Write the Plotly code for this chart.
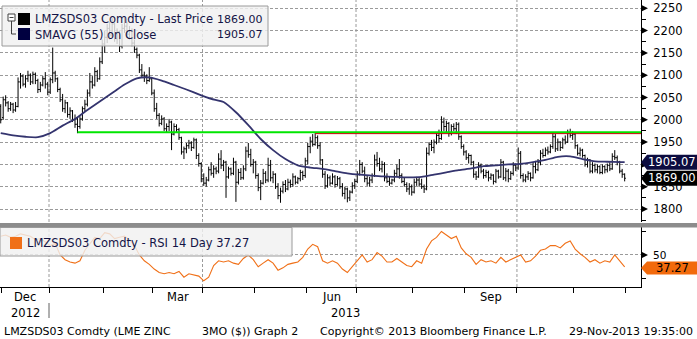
import pandas as pd
import plotly.graph_objects as go

W, H = 697, 339
FONT = "DejaVu Sans"
TEXT = "#141446"
GRID = "#9a9a9a"
SMA_COLOR = "#34346e"
RSI_COLOR = "#f07018"

# ---------------------------------------------------------------- data
# LME trading calendar, 30-Nov-2012 .. 29-Nov-2013
lme_holidays = ["2012-12-25", "2012-12-26", "2013-01-01", "2013-03-29",
                "2013-04-01", "2013-05-06", "2013-05-27", "2013-08-26"]
sessions = pd.bdate_range("2012-11-30", "2013-11-29")
sessions = sessions[~sessions.isin(pd.to_datetime(lme_holidays))]

bar_open = [
    2030, 2005, 2045, 2038, 2025, 2035, 2022, 2030, 2085, 2098,
    2080, 2092, 2100, 2085, 2102, 2088, 2068, 2078, 2092, 2080,
    2062, 2090, 2105, 2092, 2068, 2045, 2025, 2038, 2012, 2020,
    2000, 1990, 1985, 2002, 2025, 2035, 2060, 2085, 2078, 2108,
    2092, 2130, 2170, 2185, 2205, 2190, 2215, 2182, 2198, 2165,
    2205, 2210, 2192, 2200, 2172, 2158, 2145, 2112, 2100, 2098,
    2088, 2092, 2060, 2025, 2010, 1992, 2002, 1980, 1985, 1995,
    1968, 1985, 1978, 1960, 1928, 1935, 1942, 1948, 1938, 1955,
    1920, 1902, 1868, 1858, 1865, 1888, 1880, 1890, 1885, 1912,
    1898, 1905, 1872, 1890, 1880, 1905, 1860, 1882, 1870, 1890,
    1930, 1922, 1900, 1905, 1875, 1848, 1858, 1880, 1865, 1898,
    1870, 1878, 1850, 1830, 1840, 1855, 1845, 1860, 1855, 1872,
    1860, 1868, 1882, 1875, 1908, 1940, 1952, 1945, 1960, 1942,
    1910, 1878, 1852, 1870, 1858, 1872, 1855, 1868, 1850, 1835,
    1845, 1825, 1838, 1852, 1862, 1878, 1900, 1885, 1868, 1858,
    1865, 1875, 1910, 1902, 1890, 1900, 1870, 1862, 1858, 1865,
    1880, 1890, 1875, 1862, 1855, 1845, 1850, 1838, 1860, 1865,
    1856, 1850, 1845, 1925, 1945, 1938, 1950, 1965, 1958, 1995,
    1985, 1992, 1970, 1985, 1980, 1990, 1962, 1940, 1928, 1915,
    1920, 1905, 1878, 1872, 1898, 1885, 1875, 1882, 1870, 1876,
    1862, 1885, 1872, 1905, 1870, 1885, 1868, 1880, 1898, 1892,
    1925, 1875, 1865, 1872, 1880, 1870, 1895, 1888, 1905, 1925,
    1920, 1932, 1928, 1940, 1962, 1935, 1950, 1938, 1955, 1950,
    1972, 1965, 1968, 1942, 1925, 1932, 1920, 1900, 1910, 1885,
    1898, 1888, 1895, 1882, 1895, 1888, 1898, 1890, 1918, 1915,
    1905, 1885, 1878,
]
bar_high = [
    2035, 2052, 2055, 2042, 2040, 2038, 2040, 2095, 2105, 2102,
    2100, 2110, 2104, 2108, 2106, 2092, 2085, 2098, 2107, 2085,
    2095, 2162, 2110, 2095, 2072, 2058, 2045, 2040, 2028, 2022,
    2012, 2004, 2008, 2030, 2045, 2068, 2105, 2098, 2118, 2112,
    2140, 2180, 2200, 2215, 2220, 2228, 2218, 2205, 2200, 2215,
    2228, 2220, 2210, 2205, 2180, 2162, 2148, 2125, 2108, 2102,
    2118, 2095, 2068, 2038, 2015, 2010, 2006, 1992, 2002, 1998,
    1992, 1990, 1982, 1962, 1940, 1948, 1955, 1952, 1960, 1958,
    1925, 1905, 1880, 1872, 1895, 1905, 1898, 1895, 1925, 1932,
    1910, 1908, 1895, 1893, 1915, 1908, 1890, 1892, 1898, 1940,
    1948, 1935, 1912, 1908, 1880, 1865, 1890, 1885, 1915, 1910,
    1885, 1880, 1858, 1848, 1862, 1865, 1868, 1866, 1880, 1875,
    1872, 1888, 1886, 1915, 1948, 1962, 1968, 1970, 1965, 1950,
    1912, 1885, 1878, 1875, 1880, 1876, 1874, 1872, 1858, 1850,
    1848, 1842, 1860, 1868, 1885, 1910, 1905, 1895, 1875, 1872,
    1880, 1922, 1928, 1915, 1908, 1905, 1880, 1872, 1868, 1888,
    1900, 1912, 1880, 1870, 1860, 1858, 1855, 1868, 1872, 1870,
    1868, 1855, 1938, 1950, 1955, 1956, 1972, 1978, 2008, 2005,
    1998, 1995, 1990, 1992, 1995, 1994, 1965, 1945, 1932, 1925,
    1922, 1908, 1885, 1905, 1902, 1890, 1888, 1886, 1880, 1878,
    1890, 1888, 1912, 1908, 1892, 1890, 1885, 1905, 1902, 1938,
    1930, 1880, 1878, 1885, 1882, 1905, 1908, 1912, 1932, 1935,
    1938, 1940, 1945, 1970, 1968, 1958, 1952, 1960, 1965, 1978,
    1980, 1975, 1970, 1945, 1938, 1935, 1922, 1915, 1912, 1905,
    1902, 1900, 1898, 1900, 1898, 1902, 1905, 1925, 1932, 1920,
    1908, 1890, 1880,
]
bar_low = [
    1992, 2000, 2030, 2018, 2020, 2015, 2018, 2028, 2070, 2075,
    2072, 2085, 2078, 2080, 2080, 2060, 2062, 2075, 2070, 2055,
    2058, 2082, 2085, 2062, 2040, 2018, 2015, 2005, 2002, 1995,
    1982, 1970, 1980, 1998, 2018, 2030, 2052, 2070, 2075, 2085,
    2090, 2125, 2150, 2172, 2180, 2185, 2175, 2170, 2152, 2160,
    2195, 2185, 2180, 2165, 2150, 2138, 2105, 2095, 2085, 2080,
    2085, 2055, 2018, 2002, 1985, 1988, 1975, 1972, 1975, 1932,
    1965, 1972, 1955, 1922, 1912, 1925, 1935, 1930, 1935, 1912,
    1895, 1860, 1852, 1850, 1862, 1875, 1870, 1878, 1880, 1890,
    1885, 1825, 1868, 1875, 1876, 1816, 1855, 1865, 1866, 1885,
    1915, 1895, 1880, 1868, 1840, 1820, 1855, 1858, 1860, 1862,
    1858, 1845, 1822, 1814, 1835, 1838, 1842, 1848, 1850, 1855,
    1856, 1862, 1865, 1870, 1900, 1925, 1940, 1942, 1935, 1900,
    1870, 1845, 1848, 1852, 1855, 1848, 1852, 1845, 1828, 1822,
    1815, 1818, 1835, 1845, 1858, 1875, 1880, 1860, 1852, 1850,
    1858, 1872, 1895, 1885, 1882, 1862, 1858, 1852, 1855, 1860,
    1872, 1868, 1858, 1850, 1838, 1832, 1830, 1835, 1852, 1850,
    1845, 1836, 1842, 1920, 1930, 1925, 1945, 1948, 1955, 1975,
    1970, 1962, 1965, 1975, 1968, 1955, 1935, 1920, 1910, 1902,
    1898, 1870, 1865, 1870, 1880, 1868, 1870, 1862, 1865, 1855,
    1858, 1868, 1870, 1865, 1862, 1860, 1865, 1875, 1885, 1888,
    1868, 1860, 1860, 1865, 1862, 1868, 1880, 1885, 1898, 1915,
    1918, 1922, 1925, 1935, 1928, 1930, 1930, 1935, 1945, 1948,
    1960, 1955, 1935, 1920, 1918, 1915, 1895, 1893, 1880, 1880,
    1882, 1880, 1878, 1878, 1880, 1882, 1885, 1888, 1910, 1898,
    1880, 1870, 1862,
]
bar_close = [
    2000, 2045, 2038, 2025, 2035, 2022, 2030, 2085, 2098, 2080,
    2092, 2100, 2085, 2102, 2088, 2068, 2078, 2092, 2080, 2062,
    2090, 2105, 2092, 2068, 2045, 2025, 2038, 2012, 2020, 2000,
    1990, 1985, 2002, 2025, 2035, 2060, 2085, 2078, 2108, 2092,
    2130, 2170, 2185, 2205, 2190, 2215, 2182, 2198, 2165, 2205,
    2210, 2192, 2200, 2172, 2158, 2145, 2112, 2100, 2098, 2088,
    2092, 2060, 2025, 2010, 1992, 2002, 1980, 1985, 1995, 1968,
    1985, 1978, 1960, 1928, 1935, 1942, 1948, 1938, 1955, 1920,
    1902, 1868, 1858, 1865, 1888, 1880, 1890, 1885, 1912, 1898,
    1905, 1872, 1890, 1880, 1905, 1860, 1882, 1870, 1890, 1930,
    1922, 1900, 1905, 1875, 1848, 1858, 1880, 1865, 1898, 1870,
    1878, 1850, 1830, 1840, 1855, 1845, 1860, 1855, 1872, 1860,
    1868, 1882, 1875, 1908, 1940, 1952, 1945, 1960, 1942, 1910,
    1878, 1852, 1870, 1858, 1872, 1855, 1868, 1850, 1835, 1845,
    1825, 1838, 1852, 1862, 1878, 1900, 1885, 1868, 1858, 1865,
    1875, 1910, 1902, 1890, 1900, 1870, 1862, 1858, 1865, 1880,
    1890, 1875, 1862, 1855, 1845, 1850, 1838, 1860, 1865, 1856,
    1850, 1845, 1925, 1945, 1938, 1950, 1965, 1958, 1995, 1985,
    1992, 1970, 1985, 1980, 1990, 1962, 1940, 1928, 1915, 1920,
    1905, 1878, 1872, 1898, 1885, 1875, 1882, 1870, 1876, 1862,
    1885, 1872, 1905, 1870, 1885, 1868, 1880, 1898, 1892, 1925,
    1875, 1865, 1872, 1880, 1870, 1895, 1888, 1905, 1925, 1920,
    1932, 1928, 1940, 1962, 1935, 1950, 1938, 1955, 1950, 1972,
    1965, 1968, 1942, 1925, 1932, 1920, 1900, 1910, 1885, 1898,
    1888, 1895, 1882, 1895, 1888, 1898, 1890, 1918, 1915, 1905,
    1885, 1878, 1869.00,
]

# 55-day simple moving average, sampled every 5th session plus the last one
sma55 = [
    1970, 1965, 1962, 1961, 1970, 1987, 2002, 2022, 2041, 2060,
    2079, 2093, 2095, 2088, 2078, 2068, 2057, 2047, 2040, 2017,
    1988, 1957, 1932, 1912, 1898, 1893, 1890, 1885, 1880, 1877,
    1875, 1873, 1872, 1871, 1872, 1877, 1882, 1887, 1891, 1896,
    1898, 1900, 1901, 1905, 1910, 1917, 1918, 1912, 1907, 1906,
    1905, 1905.07,
]

# 14-day RSI, sampled every 2nd session (last sample = last session)
rsi14 = [
    70.0, 71.3, 68.8, 70.0, 72.5, 71.3, 70.0, 66.3, 67.5, 63.8,
    60.0, 62.5, 50.0, 45.0, 42.5, 41.3, 43.8, 55.0, 62.5, 68.8,
    67.5, 73.8, 72.5, 67.5, 68.8, 70.0, 66.3, 60.0, 50.0, 43.8,
    40.0, 35.0, 31.3, 30.0, 31.3, 30.0, 32.5, 26.3, 30.0, 28.8,
    27.5, 22.5, 26.3, 38.8, 43.8, 42.5, 43.8, 41.3, 40.0, 46.3,
    50.0, 45.0, 37.5, 41.3, 45.0, 41.3, 33.8, 36.3, 40.0, 41.3,
    42.5, 47.5, 56.3, 61.3, 58.8, 43.8, 41.3, 43.8, 41.3, 35.0,
    31.3, 37.5, 43.8, 50.0, 42.5, 45.0, 52.5, 48.8, 42.5, 42.5,
    46.3, 42.5, 38.8, 37.5, 43.8, 41.3, 56.3, 65.0, 68.8, 75.0,
    71.3, 67.5, 70.0, 57.5, 51.3, 47.5, 40.0, 45.0, 42.5, 43.8,
    41.3, 47.5, 42.5, 45.0, 47.5, 50.0, 42.5, 43.8, 48.8, 55.0,
    56.3, 60.0, 60.0, 57.5, 62.5, 65.0, 56.3, 51.3, 47.5, 42.5,
    45.0, 41.3, 43.8, 42.5, 50.0, 43.8, 37.27,
]

# horizontal levels drawn on the price panel: (value, first session, colour, width)
levels = [
    (1972, "2013-01-17", "#00e600", 2.0),
    (1969, "2013-06-06", "#c80000", 1.0),
]

price_ticks = [1800, 1850, 1900, 1950, 2000, 2050, 2100, 2150, 2200, 2250]
rsi_ticks = [50]
rsi_minor = [25, 75]

# ---------------------------------------------------------------- geometry
n = len(sessions)
sx = list(range(n))
sma_x = list(range(0, n - 2, 5)) + [n - 1]
rsi_x = list(range(0, n, 2))

X_DOM = 641 / W
X_RANGE = [-0.29, 258.6]
Y_MAIN = [1770.9, 2268.6]
Y_RSI = [15.9, 79.8]
MAIN_DOM = [1 - 222 / H, 1.0]
RSI_DOM = [1 - 287 / H, 1 - 227 / H]
px_per_price = 222 / (Y_MAIN[1] - Y_MAIN[0])
px_per_rsi = 60 / (Y_RSI[1] - Y_RSI[0])


def px(x, y):
    """pixel position -> paper coordinates"""
    return x / W, 1 - y / H


# month boundaries (between last session of a month and first of the next)
bounds = [i - 0.5 for i in range(1, n) if sessions[i].month != sessions[i - 1].month]
bounds.append(n - 0.5)
spans = list(zip(bounds[:-1], bounds[1:]))
span_month = [sessions[int(a + 0.5)].month for a, _ in spans]
quarter_lines = [a for (a, _), m in zip(spans, span_month) if m in (1, 4, 7, 10)]
jan_bound = [a for (a, _), m in zip(spans, span_month) if m == 1][0]

# the last-value tags sit on top of the axis labels next to them;
# a label entirely under a tag is left blank
tag_values = [sma55[-1], bar_close[-1]]
price_ticktext = ["" if any(abs(v - t) < 8 for t in tag_values) else str(v)
                  for v in price_ticks]

# ---------------------------------------------------------------- traces
fig = go.Figure()
fig.add_trace(go.Ohlc(
    x=sx, open=bar_open, high=bar_high, low=bar_low, close=bar_close,
    increasing=dict(line=dict(color="#000000", width=1)),
    decreasing=dict(line=dict(color="#000000", width=1)),
    tickwidth=0.5, showlegend=False, hoverinfo="skip",
    xaxis="x", yaxis="y"))
fig.add_trace(go.Scatter(
    x=sma_x, y=sma55, mode="lines",
    line=dict(color=SMA_COLOR, width=1.8, shape="spline", smoothing=0.6),
    showlegend=False, hoverinfo="skip", xaxis="x", yaxis="y"))
fig.add_trace(go.Scatter(
    x=rsi_x, y=rsi14, mode="lines",
    line=dict(color=RSI_COLOR, width=1.1),
    showlegend=False, hoverinfo="skip", xaxis="x2", yaxis="y2"))

shapes = []
annotations = []

# quarter grid lines in both panels
for b in quarter_lines:
    for xr, yr in (("x", "y domain"), ("x2", "y2 domain")):
        shapes.append(dict(type="line", xref=xr, yref=yr, x0=b, x1=b, y0=0, y1=1,
                           line=dict(color=GRID, width=1, dash="3px,2px"), layer="below"))

# support / resistance levels
for value, start, color, width in levels:
    i0 = sessions.get_loc(pd.Timestamp(start))
    shapes.append(dict(type="line", xref="x", yref="y", x0=i0, x1=X_RANGE[1],
                       y0=value, y1=value, line=dict(color=color, width=width)))

# axis tick triangles
tri_dx = 7 / W
for v in price_ticks:
    dy = 3.5 / px_per_price
    shapes.append(dict(type="path", xref="paper", yref="y",
                       path=f"M {X_DOM},{v + dy} L {X_DOM + tri_dx},{v} L {X_DOM},{v - dy} Z",
                       fillcolor="black", line=dict(width=0), layer="above"))
for v in rsi_ticks:
    dy = 3.5 / px_per_rsi
    shapes.append(dict(type="path", xref="paper", yref="y2",
                       path=f"M {X_DOM},{v + dy} L {X_DOM + tri_dx},{v} L {X_DOM},{v - dy} Z",
                       fillcolor="black", line=dict(width=0), layer="above"))

# panel separator band
x0, y0 = px(0, 227.5)
x1, y1 = px(W, 223)
shapes.append(dict(type="rect", xref="paper", yref="paper", x0=x0, x1=x1, y0=y0, y1=y1,
                   fillcolor="#8c8c8c", line=dict(width=0), layer="above"))


def value_tag(value, yref, per_px, fill, txt, txt_color, half_h=7.5, size=11.5, shift_px=0):
    h = half_h / per_px
    c = value - shift_px / per_px
    xa, xb = X_DOM, X_DOM + 6 / W
    shapes.append(dict(type="path", xref="paper", yref=yref,
                       path=(f"M {xa},{c} L {xb},{c + h} L 1,{c + h} "
                             f"L 1,{c - h} L {xb},{c - h} Z"),
                       fillcolor=fill, line=dict(width=0), layer="above"))
    annotations.append(dict(xref="paper", yref=yref, x=(xb + 1) / 2, y=c,
                            text=txt, showarrow=False, xanchor="center", yanchor="middle",
                            font=dict(family=FONT, size=size, color=txt_color)))


value_tag(sma55[-1], "y", px_per_price, "#0c0c40", f"{sma55[-1]:.2f}", "white")
value_tag(bar_close[-1], "y", px_per_price, "#000000", f"{bar_close[-1]:.2f}", "white")
value_tag(rsi14[-1], "y2", px_per_rsi, "#f26a0c", f"{rsi14[-1]:.2f}", "black",
          half_h=6.5, shift_px=1)


def rect_px(xa, ya, xb, yb, **kw):
    p0 = px(xa, yb)
    p1 = px(xb, ya)
    d = dict(type="rect", xref="paper", yref="paper", x0=p0[0], y0=p0[1], x1=p1[0], y1=p1[1],
             layer="above")
    d.update(kw)
    shapes.append(d)


def line_px(xa, ya, xb, yb, color="#404040", width=1):
    p0 = px(xa, ya)
    p1 = px(xb, yb)
    shapes.append(dict(type="line", xref="paper", yref="paper", x0=p0[0], y0=p0[1],
                       x1=p1[0], y1=p1[1], line=dict(color=color, width=width), layer="above"))


def text_px(x, y, txt, anchor="left", size=12, color=TEXT):
    xp, yp = px(x, y)
    annotations.append(dict(xref="paper", yref="paper", x=xp, y=yp, text=txt,
                            showarrow=False, xanchor=anchor, yanchor="middle",
                            font=dict(family=FONT, size=size, color=color)))


# price panel legend
rect_px(2, 6, 268, 46, fillcolor="rgba(240,240,240,0.82)", line=dict(color="#9a9a9a", width=1))
rect_px(8, 14, 15, 21, fillcolor="white", line=dict(color="#404040", width=1))
line_px(9.5, 17.5, 13.5, 17.5)
line_px(11.5, 21, 11.5, 34)
line_px(11.5, 34, 16, 34)
rect_px(18, 13, 30, 25, fillcolor="#000000", line=dict(width=0))
rect_px(18, 28, 30, 40, fillcolor="#000040", line=dict(width=0))
text_px(33, 19, "LMZSDS03 Comdty - Last Price", size=11.5)
text_px(265, 19, f"{bar_close[-1]:.2f}", anchor="right", size=11)
text_px(33, 34.5, "SMAVG (55) on Close", size=11.5)
text_px(265, 34.5, f"{sma55[-1]:.2f}", anchor="right", size=11)

# RSI panel legend
rect_px(0, 227.5, 292, 256, fillcolor="rgba(240,240,240,0.82)", line=dict(color="#9a9a9a", width=1))
rect_px(10, 237, 22, 249, fillcolor=RSI_COLOR, line=dict(width=0))
text_px(25, 243, f"LMZSDS03 Comdty - RSI 14 Day {rsi14[-1]:.2f}", size=11.5)

# month and year labels
month_names = {12: "Dec", 3: "Mar", 6: "Jun", 9: "Sep"}
for (a, b), m in zip(spans, span_month):
    if m in month_names:
        annotations.append(dict(xref="x2", yref="paper", x=(a + b) / 2, y=px(0, 297)[1],
                                text=month_names[m], showarrow=False, xanchor="center",
                                yanchor="middle", font=dict(family=FONT, size=11.5, color="black")))
dec_span = [s for s, m in zip(spans, span_month) if m == 12][0]
annotations.append(dict(xref="x2", yref="paper", x=sum(dec_span) / 2, y=px(0, 313)[1],
                        text="2012", showarrow=False, xanchor="center", yanchor="middle",
                        font=dict(family=FONT, size=11.5, color="black")))
annotations.append(dict(xref="x2", yref="paper", x=(jan_bound + X_RANGE[1]) / 2, y=px(0, 313)[1],
                        text="2013", showarrow=False, xanchor="center", yanchor="middle",
                        font=dict(family=FONT, size=11.5, color="black")))
shapes.append(dict(type="line", xref="x2", yref="paper", x0=jan_bound, x1=jan_bound,
                   y0=px(0, 318)[1], y1=px(0, 303)[1], line=dict(color="#606060", width=1)))

# footer
text_px(2, 331, "LMZSDS03 Comdty (LME ZINC", size=11, color="black")
text_px(200, 331, "3MO ($)) Graph 2", size=11, color="black")
text_px(318, 331, "Copyright\u00a9 2013 Bloomberg Finance L.P.", size=11, color="black")
text_px(695, 331, "29-Nov-2013 19:35:00", anchor="right", size=11, color="black")

# ---------------------------------------------------------------- layout
fig.update_layout(
    width=W, height=H, margin=dict(l=0, r=0, t=0, b=0),
    paper_bgcolor="white", plot_bgcolor="white", showlegend=False,
    font=dict(family=FONT, size=11, color="black"),
    xaxis=dict(domain=[0, X_DOM], range=X_RANGE, anchor="y", showticklabels=False,
               ticks="", showgrid=False, zeroline=False, showline=False,
               rangeslider=dict(visible=False), fixedrange=True),
    yaxis=dict(domain=MAIN_DOM, range=Y_MAIN, side="right", anchor="x",
               tickvals=price_ticks, ticktext=price_ticktext,
               ticks="", showline=True, linecolor="black", linewidth=1,
               showgrid=True, gridcolor=GRID, griddash="3px,2px", gridwidth=1,
               zeroline=False, ticklabelstandoff=9,
               tickfont=dict(family=FONT, size=11.5, color="black"),
               minor=dict(tickvals=[v + 25 for v in [1750] + price_ticks],
                          ticks="outside", ticklen=4, tickcolor="black", showgrid=False)),
    xaxis2=dict(domain=[0, X_DOM], range=X_RANGE, anchor="y2",
                tickvals=bounds, ticktext=[""] * len(bounds), ticks="outside",
                ticklen=5, tickcolor="black", showline=True, linecolor="black",
                showgrid=False, zeroline=False, fixedrange=True),
    yaxis2=dict(domain=RSI_DOM, range=Y_RSI, side="right", anchor="x2",
                tickvals=rsi_ticks, ticktext=[str(v) for v in rsi_ticks],
                ticks="", showline=True, linecolor="black", linewidth=1,
                showgrid=True, gridcolor=GRID, griddash="3px,2px", gridwidth=1,
                zeroline=False, ticklabelstandoff=9,
                tickfont=dict(family=FONT, size=10.5, color="black"),
                minor=dict(tickvals=rsi_minor, ticks="outside", ticklen=4,
                           tickcolor="black", showgrid=False)),
    shapes=shapes,
    annotations=annotations,
)

fig.write_html("out.html")
